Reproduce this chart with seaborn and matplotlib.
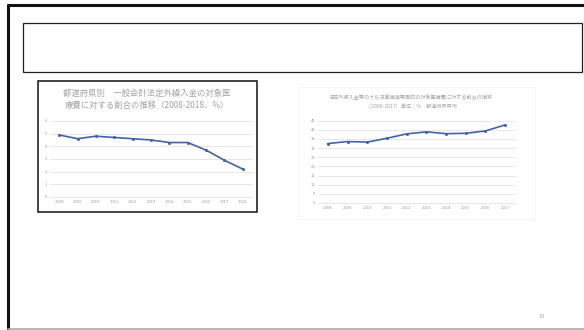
import matplotlib
matplotlib.use("Agg")
import matplotlib.pyplot as plt
import seaborn as sns
import pandas as pd
from matplotlib.patches import Rectangle

# --- data ---------------------------------------------------------------
left_years = ["2008", "2009", "2010", "2011", "2012", "2013",
              "2014", "2015", "2016", "2017", "2018"]
left_values = [4.9, 4.6, 4.8, 4.7, 4.6, 4.5, 4.3, 4.3, 3.7, 2.9, 2.2]
left_title = "都道府県別　一般会計法定外繰入金の対象医\n療費に対する割合の推移（2008-2018、%）"

right_years = ["2008", "2009", "2010", "2011", "2012",
               "2013", "2014", "2015", "2016", "2017"]
right_values = [32.5, 33.6, 33.3, 35.4, 37.8, 38.9, 37.9, 38.1, 39.4, 42.7]
right_title = "法定外繰入金等のうち決算補填等目的の対象医療費に対する割合の推移\n（2008-2017）単位：%　都道府県平均"

page_number = "19"

# --- styling ------------------------------------------------------------
sns.set_theme(style="white")
plt.rcParams["font.family"] = ["Noto Sans CJK JP", "DejaVu Sans"]

W, H = 584, 330
fig = plt.figure(figsize=(W / 100, H / 100), dpi=100)
fig.patch.set_facecolor("white")


def px_axes(x0, y_top, x1, y_bottom):
    return fig.add_axes([x0 / W, 1 - y_bottom / H, (x1 - x0) / W, (y_bottom - y_top) / H])


def px_rect(x0, y0, x1, y1, **kw):
    fig.add_artist(Rectangle((x0 / W, 1 - y1 / H), (x1 - x0) / W, (y1 - y0) / H,
                             transform=fig.transFigure, fill=False, **kw))


# slide frame
fig.add_artist(plt.Line2D([8 / W, 8 / W], [0, 1 - 5 / H], transform=fig.transFigure,
                          color="#111111", lw=2.2))
fig.add_artist(plt.Line2D([8 / W, 1], [1 - 5 / H, 1 - 5 / H], transform=fig.transFigure,
                          color="#111111", lw=2.2))
fig.add_artist(plt.Line2D([8 / W, 1], [1 - 329 / H, 1 - 329 / H], transform=fig.transFigure,
                          color="#aaaaaa", lw=1.2))
# title placeholder box
px_rect(23, 23, 582, 72, edgecolor="#222222", lw=0.9)
# chart frames
px_rect(37.5, 81, 257, 212, edgecolor="#111111", lw=1.1)
px_rect(298, 87, 535, 219, edgecolor="#f2f2f2", lw=0.5)

line_color = "#4562a8"
tick_color = "#9a9a9a"
grid_color = "#e3e3e3"


def draw(ax, years, values, ymax, step):
    df = pd.DataFrame({"year": years, "value": values})
    sns.lineplot(data=df, x="year", y="value", ax=ax, color=line_color,
                 marker="o", markersize=2.2, markeredgewidth=0, lw=1.2,
                 sort=False)
    ax.set_xlim(-0.5, len(years) - 0.5)
    ax.set_ylim(0, ymax)
    ax.set_yticks(range(0, ymax + 1, step))
    ax.yaxis.grid(True, color=grid_color, lw=0.6)
    ax.xaxis.grid(False)
    for s in ax.spines.values():
        s.set_visible(False)
    ax.set_xlabel("")
    ax.set_ylabel("")
    ax.tick_params(axis="both", length=0, labelsize=3.0, colors=tick_color, pad=2)
    for gl in ax.get_ygridlines():
        gl.set_clip_on(False)
    ax.set_facecolor("none")


ax_left = px_axes(50, 121, 252, 197)
draw(ax_left, left_years, left_values, 6, 1)
fig.text(147 / W, 1 - 99 / H, left_title, ha="center", va="center",
         fontsize=6.0, color="#a3a3a3", linespacing=1.45)

ax_right = px_axes(318, 120.7, 515, 203)
draw(ax_right, right_years, right_values, 45, 5)
fig.text(411 / W, 1 - 102 / H, right_title, ha="center", va="center",
         fontsize=3.7, color="#a3a3a3", linespacing=2.3)

fig.text(542 / W, 1 - 317 / H, page_number, ha="center", va="center",
         fontsize=4.0, color="#aaaaaa")

fig.savefig("out.png", dpi=100, facecolor="white")
